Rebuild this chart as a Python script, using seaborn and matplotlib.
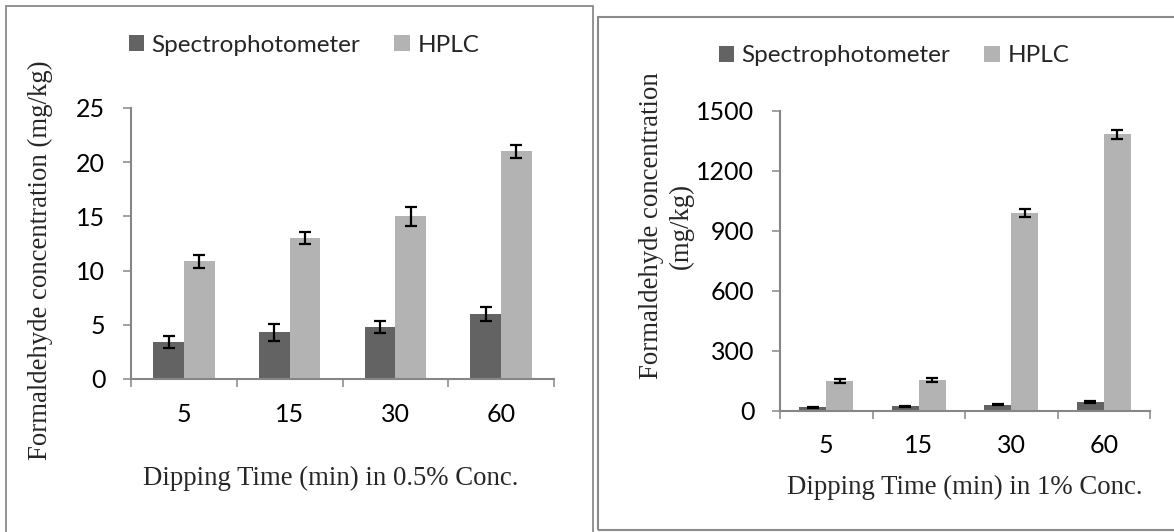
import matplotlib
matplotlib.use("Agg")
import matplotlib.pyplot as plt
import seaborn as sns
import pandas as pd
import numpy as np
from matplotlib.patches import Rectangle, Patch

# ---------------- data ----------------
times = ["5", "15", "30", "60"]
methods = ["Spectrophotometer", "HPLC"]

left_spectro = [3.4, 4.3, 4.8, 6.0]
left_spectro_err = [0.57, 0.78, 0.52, 0.62]
left_hplc = [10.85, 13.0, 15.0, 21.0]
left_hplc_err = [0.6, 0.55, 0.85, 0.58]

right_spectro = [16, 22, 30, 42]
right_spectro_err = [3, 3, 4, 4]
right_hplc = [148, 153, 990, 1383]
right_hplc_err = [10, 10, 20, 22]

left_yticks = [0, 5, 10, 15, 20, 25]
right_yticks = [0, 300, 600, 900, 1200, 1500]

left_xlabel = "Dipping Time (min) in 0.5% Conc."
right_xlabel = "Dipping Time (min) in 1% Conc."
left_ylabel = "Formaldehyde concentration (mg/kg)"
right_ylabel = "Formaldehyde concentration\n(mg/kg)"

# ---------------- style ----------------
sns.set_theme(style="white")
plt.rcParams["font.family"] = ["Lato", "DejaVu Sans"]

DARK = "#636363"
LIGHT = "#b3b3b3"
SPINE = "#868686"
SERIF = ["Liberation Serif", "DejaVu Serif"]

W, H = 1174, 532
fig = plt.figure(figsize=(W / 100, H / 100), dpi=100)


def fx(px):
    return px / W


def fy(py):
    return (H - py) / H


def make_df(spec, hplc):
    return pd.DataFrame({
        "time": times * 2,
        "method": [methods[0]] * 4 + [methods[1]] * 4,
        "value": list(spec) + list(hplc),
    })


def draw_panel(ax, spec, spec_err, hplc, hplc_err, yticks):
    df = make_df(spec, hplc)
    sns.barplot(data=df, x="time", y="value", hue="method", order=times,
                hue_order=methods, palette=[DARK, LIGHT], saturation=1,
                width=0.58, errorbar=None, linewidth=0, ax=ax, legend=False)
    errs = [spec_err, hplc_err]
    for cont, err in zip(ax.containers, errs):
        xs = [b.get_x() + b.get_width() / 2 for b in cont]
        ys = [b.get_height() for b in cont]
        ax.errorbar(xs, ys, yerr=err, fmt="none", ecolor="black",
                    elinewidth=1.6, capsize=4.3, capthick=1.6, zorder=5)
    ax.set_xlim(-0.5, 3.5)
    ax.set_ylim(yticks[0], yticks[-1])
    ax.set_yticks(yticks)
    ax.set_xlabel("")
    ax.set_ylabel("")
    for s in ["top", "right"]:
        ax.spines[s].set_visible(False)
    for s in ["left", "bottom"]:
        ax.spines[s].set_color(SPINE)
        ax.spines[s].set_linewidth(1.5)
    ax.set_xticks(np.arange(-0.5, 4, 1.0), minor=True)
    ax.tick_params(axis="x", which="major", length=0, pad=17,
                   labelsize=18, labelcolor="black")
    ax.tick_params(axis="x", which="minor", length=5.5, width=1.1,
                   color=SPINE, direction="out", bottom=True)
    ax.tick_params(axis="y", which="major", length=5.5, width=1.1,
                   color=SPINE, direction="out", left=True, pad=13,
                   labelsize=18, labelcolor="black")
    ax.set_facecolor("white")


# Left panel
axL = fig.add_axes([fx(131), fy(379), fx(554) - fx(131), fy(108) - fy(379)])
draw_panel(axL, left_spectro, left_spectro_err, left_hplc, left_hplc_err,
           left_yticks)

# Right panel
axR = fig.add_axes([fx(780), fy(410.6), fx(1150) - fx(780), fy(111) - fy(410.6)])
draw_panel(axR, right_spectro, right_spectro_err, right_hplc, right_hplc_err,
           right_yticks)

# Axis titles
fig.text(fx(40), fy(260), left_ylabel, rotation=90, ha="center", va="center",
         fontsize=19.3, family=SERIF)
fig.text(fx(666), fy(226), right_ylabel, rotation=90, ha="center",
         va="center", fontsize=19.3, family=SERIF, linespacing=1.25,
         multialignment="center")
fig.text(fx(331), fy(478), left_xlabel, ha="center", va="center",
         fontsize=19.3, family=SERIF)
fig.text(fx(964.5), fy(487), right_xlabel, ha="center", va="center",
         fontsize=19.3, family=SERIF)

# Legends
handles = [Patch(facecolor=DARK, edgecolor="none"),
           Patch(facecolor=LIGHT, edgecolor="none")]
for cx, cy in [(304, 45), (894, 56)]:
    fig.legend(handles, methods, loc="center", bbox_to_anchor=(fx(cx), fy(cy)),
               ncol=2, frameon=False, fontsize=17.5, handlelength=0.65,
               handleheight=0.65, handletextpad=0.3, columnspacing=1.4,
               borderaxespad=0, borderpad=0)

# Panel borders
fig.add_artist(Rectangle((fx(6), fy(540)), fx(593) - fx(6), fy(6) - fy(540),
                         transform=fig.transFigure, fill=False,
                         edgecolor="#8a8a8a", linewidth=1.3))
fig.add_artist(Rectangle((fx(598), fy(530)), fx(1190) - fx(598),
                         fy(17) - fy(530), transform=fig.transFigure,
                         fill=False, edgecolor="#8a8a8a", linewidth=1.5))

fig.savefig("out.png", dpi=100, facecolor="white")
